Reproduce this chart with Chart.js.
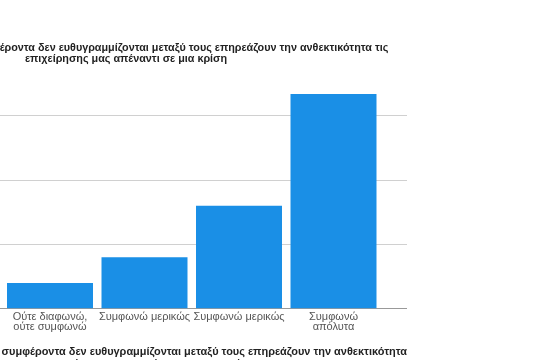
<!DOCTYPE html>
<html>
<head>
<meta charset="utf-8">
<script src="https://cdn.jsdelivr.net/npm/chart.js@4.4.1/dist/chart.umd.min.js"></script>
<style>
html,body{margin:0;padding:0;background:#fff;overflow:hidden;width:560px;height:360px;position:relative}
#c{position:absolute;left:-155px;top:0}
</style>
</head>
<body>
<canvas id="c" width="562" height="370"></canvas>
<script>
// ---- data ----
const categories = [["Ούτε διαφωνώ,", "ούτε συμφωνώ"], "Συμφωνώ μερικώς", "Συμφωνώ μερικώς", ["Συμφωνώ", "απόλυτα"]];
const values = [2, 4, 8, 16.7];
const yTickStep = 5;
const yMax = 17.5;
const titleLines = ["συμφέροντα δεν ευθυγραμμίζονται μεταξύ τους επηρεάζουν την ανθεκτικότητα τις", "επιχείρησης μας απέναντι σε μια κρίση"];
const axisTitleLines = ["συμφέροντα δεν ευθυγραμμίζονται μεταξύ τους επηρεάζουν την ανθεκτικότητα", "τις επιχείρησης μας απέναντι σε μια κρίση"];

// ---- styling ----
const FONT = '"Liberation Sans", Arial, sans-serif';
const TITLE_SIZE = 10.8;
const AXIS_TITLE_SIZE = 11.1;
Chart.defaults.font.family = FONT;

// the first title lines are cut on the left in the reference: pad with leading spaces
const mctx = document.createElement('canvas').getContext('2d');
function padTo(text, total, size) {
  mctx.font = 'bold ' + size + 'px ' + FONT;
  const w = mctx.measureText(text).width;
  const s = mctx.measureText(' ').width;
  const n = Math.max(0, Math.round((total - w) / s));
  return ' '.repeat(n) + text;
}
const topTitle = [padTo(titleLines[0], 524, TITLE_SIZE), titleLines[1]];
const bottomTitle = [padTo(axisTitleLines[0], 538, AXIS_TITLE_SIZE), axisTitleLines[1]];

new Chart(document.getElementById('c'), {
  type: 'bar',
  data: {
    datasets: [{
      data: values.map((v, i) => ({x: i, y: v})),
      backgroundColor: '#1a8fe6',
      borderWidth: 0,
      categoryPercentage: 1,
      barPercentage: 0.91
    }]
  },
  options: {
    responsive: false,
    animation: false,
    devicePixelRatio: 1,
    layout: {padding: 0},
    plugins: {
      legend: {display: false},
      tooltip: {enabled: false},
      title: {
        display: true,
        text: topTitle,
        color: '#222',
        font: {size: TITLE_SIZE, weight: 'bold', lineHeight: 1.0},
        padding: {top: 43, bottom: 19}
      }
    },
    scales: {
      x: {
        type: 'linear',
        offset: false,
        min: -1.8307,
        max: 3.7778,
        grid: {display: false, drawTicks: false, offset: false},
        border: {display: true, color: '#999', width: 1},
        ticks: {
          stepSize: 1,
          includeBounds: false,
          autoSkip: false,
          maxRotation: 0,
          padding: 3,
          color: '#555',
          font: {size: 11, lineHeight: 0.92},
          callback: (v) => (Number.isInteger(v) && categories[v] !== undefined) ? categories[v] : ''
        },
        title: {
          display: true,
          text: bottomTitle,
          color: '#222',
          font: {size: AXIS_TITLE_SIZE, weight: 'bold', lineHeight: 1.08},
          padding: {top: 11, bottom: 0}
        }
      },
      y: {
        min: 0,
        max: yMax,
        grid: {
          drawTicks: false,
          color: (ctx) => (ctx.tick && ctx.tick.value === 0) ? '#999' : '#d0d0d0'
        },
        border: {display: false},
        ticks: {stepSize: yTickStep, includeBounds: false, color: '#555', font: {size: 10}, padding: 4},
        afterFit: (s) => { s.width = 32; }
      }
    }
  }
});
</script>
</body>
</html>
